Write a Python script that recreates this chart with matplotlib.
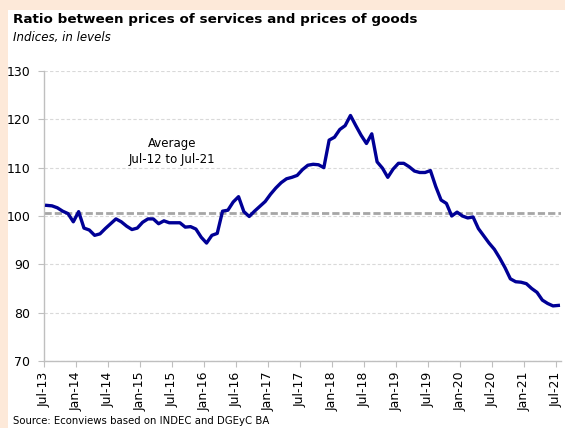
import numpy as np
import matplotlib.pyplot as plt
from matplotlib.patches import Rectangle

# monthly ratio, Jul-13 .. Jul-21
ratio = [
    102.2, 102.1, 101.7, 101.0, 100.5, 98.8, 100.9, 97.5, 97.1, 96.0,
    96.3, 97.4, 98.4, 99.4, 98.8, 97.9, 97.2, 97.5, 98.7, 99.4,
    99.4, 98.4, 99.0, 98.6, 98.6, 98.6, 97.7, 97.8, 97.3, 95.6,
    94.4, 96.0, 96.4, 101.0, 101.2, 102.9, 104.0, 100.9, 99.9, 101.0,
    102.0, 103.0, 104.5, 105.8, 106.9, 107.7, 108.0, 108.4, 109.6, 110.5,
    110.7, 110.6, 110.0, 115.7, 116.3, 117.9, 118.7, 120.8, 118.7, 116.7,
    115.0, 117.0, 111.2, 109.9, 108.0, 109.7, 110.9, 110.9, 110.2, 109.3,
    109.0, 109.0, 109.4, 106.1, 103.3, 102.6, 100.0, 100.8, 100.0, 99.6,
    99.8, 97.4, 95.9, 94.4, 93.1, 91.3, 89.3, 87.0, 86.4, 86.3,
    86.0, 85.0, 84.2, 82.6, 81.9, 81.4, 81.5,
]
average = 100.7

tick_labels = ["Jul-13", "Jan-14", "Jul-14", "Jan-15", "Jul-15", "Jan-16",
               "Jul-16", "Jan-17", "Jul-17", "Jan-18", "Jul-18", "Jan-19",
               "Jul-19", "Jan-20", "Jul-20", "Jan-21", "Jul-21"]

n = len(ratio)
x = np.arange(n) + 0.5

fig = plt.figure(figsize=(5.65, 4.28), dpi=100, facecolor="#fde9d9")
# white panel leaving a peach strip on the top and left edges
fig.patches.append(Rectangle((8 / 565, 0), 1, 1 - 10 / 428, transform=fig.transFigure,
                             facecolor="white", edgecolor="none", zorder=-5))

ax = fig.add_axes([44 / 565, 1 - 361 / 428, 517 / 565, 290 / 428])
ax.set_facecolor("none")

ax.axhline(average, color="#a6a6a6", lw=2, ls=(0, (2.6, 1.1)), zorder=2)
ax.plot(x, ratio, color="#000096", lw=2.4, zorder=3, solid_joinstyle="round")

ax.set_xlim(0, n)
ax.set_ylim(70, 130)
ax.set_yticks(range(70, 131, 10))
ax.set_xticks(range(0, n, 6))
ax.set_xticklabels(tick_labels, rotation=90)

ax.grid(axis="y", color="#d9d9d9", ls=(0, (3, 2)), lw=0.8)
ax.set_axisbelow(True)
for s in ["top", "right"]:
    ax.spines[s].set_visible(False)
for s in ["left", "bottom"]:
    ax.spines[s].set_color("#bfbfbf")
    ax.spines[s].set_linewidth(1)
ax.tick_params(axis="both", colors="#bfbfbf", labelcolor="black", length=4, labelsize=9)
ax.tick_params(axis="y", pad=6)

ax.text(24.0, 113.4, "Average\nJul-12 to Jul-21", ha="center", va="center",
        fontsize=8.5, linespacing=1.3)

fig.text(13 / 565, 1 - 20 / 428, "Ratio between prices of services and prices of goods",
         fontsize=9.7, fontweight="bold", va="center")
fig.text(13 / 565, 1 - 38 / 428, "Indices, in levels", fontsize=8.5, style="italic", va="center")
fig.text(13 / 565, 1 - 421 / 428, "Source: Econviews based on INDEC and DGEyC BA",
         fontsize=7.3, va="center")

fig.savefig("out.png", dpi=100, facecolor=fig.get_facecolor())
